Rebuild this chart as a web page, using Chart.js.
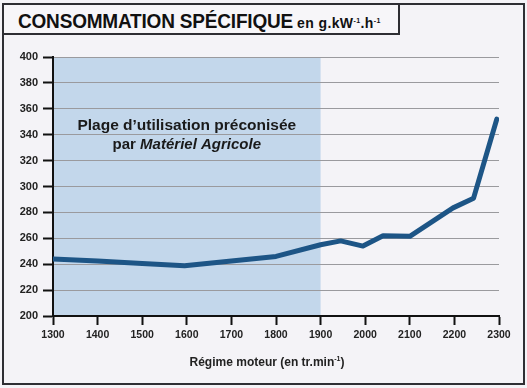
<!DOCTYPE html>
<html>
<head>
<meta charset="utf-8">
<script src="https://cdn.jsdelivr.net/npm/chart.js@4.4.1/dist/chart.umd.min.js"></script>
<style>
  html, body { margin:0; padding:0; background:#f4f3f7; }
  #wrap { position:relative; width:527px; height:388px; overflow:hidden; background:#f4f3f7; }
  #frame { position:absolute; left:2px; top:3px; width:519px; height:378px; border:2px solid #2e2e33; box-sizing:content-box; }
  #titlebox { position:absolute; left:2px; top:3px; width:394px; height:28px; border:2px solid #2e2e33; background:#f7f6f9; }
  #title { position:absolute; left:14px; top:5px; white-space:nowrap; font-family:"Liberation Sans", Arial, sans-serif; font-weight:bold; color:#111; transform-origin:0 0; transform:scaleX(0.95); font-size:20px; letter-spacing:-0.2px; }
  #unit { position:absolute; left:293px; top:10px; white-space:nowrap; font-family:"Liberation Sans", Arial, sans-serif; font-weight:bold; color:#111; font-size:14px; letter-spacing:0.4px; }
  #unit sup, #xtitle sup { font-size:7px; vertical-align:5px; }
  #xtitle { position:absolute; left:0; width:534px; top:355px; text-align:center; font-family:"Liberation Sans", Arial, sans-serif; font-weight:bold; font-size:12px; color:#222; }
  canvas { position:absolute; left:0; top:0; }
</style>
</head>
<body>
<div id="wrap">
  <div id="frame"></div>
  <canvas id="c" width="527" height="388"></canvas>
  <div id="titlebox"><div id="title">CONSOMMATION SPÉCIFIQUE</div><div id="unit">en g.kW<sup>-1</sup>.h<sup>-1</sup></div></div>
  <div id="xtitle">Régime moteur (en tr.min<sup>-1</sup>)</div>
</div>
<script>
// Data
const rpm   = [1300, 1400, 1500, 1595, 1700, 1800, 1900, 1945, 1995, 2040, 2100, 2197, 2243, 2295];
const conso = [244, 242.5, 240.5, 238.8, 242.5, 246, 255, 258, 254, 262, 261.5, 283.5, 291, 352];
const xTicks = [1300, 1400, 1500, 1600, 1700, 1800, 1900, 2000, 2100, 2200, 2300];
const yTicks = [200, 220, 240, 260, 280, 300, 320, 340, 360, 380, 400];
const zoneStart = 1300, zoneEnd = 1900;
const zoneLine1 = "Plage d\u2019utilisation préconisée";
const zoneLine2a = "par ";
const zoneLine2b = "Matériel Agricole";

const points = rpm.map((x, i) => ({ x: x, y: conso[i] }));

const zonePlugin = {
  id: 'zone',
  beforeDraw(chart) {
    const { ctx, chartArea, scales } = chart;
    const x0 = scales.x.getPixelForValue(zoneStart);
    const x1 = scales.x.getPixelForValue(zoneEnd);
    ctx.save();
    ctx.fillStyle = '#c3d7eb';
    ctx.fillRect(x0, chartArea.top, x1 - x0, chartArea.bottom - chartArea.top);
    ctx.restore();
  },
  afterDatasetsDraw(chart) {
    const { ctx, scales } = chart;
    const cx = (scales.x.getPixelForValue(zoneStart) + scales.x.getPixelForValue(zoneEnd)) / 2;
    ctx.save();
    ctx.fillStyle = '#1a1a1a';
    ctx.textBaseline = 'middle';
    ctx.textAlign = 'center';
    ctx.font = 'bold 15.5px "Liberation Sans", Arial, sans-serif';
    ctx.fillText(zoneLine1, cx, 126);
    const fa = 'bold 15px "Liberation Sans", Arial, sans-serif';
    const fb = 'italic bold 15px "Liberation Sans", Arial, sans-serif';
    ctx.font = fa; const wa = ctx.measureText(zoneLine2a).width;
    ctx.font = fb; const wb = ctx.measureText(zoneLine2b).width;
    const start = cx - (wa + wb) / 2;
    ctx.textAlign = 'left';
    ctx.font = fa; ctx.fillText(zoneLine2a, start, 145);
    ctx.font = fb; ctx.fillText(zoneLine2b, start + wa, 145);
    ctx.restore();
  }
};

new Chart(document.getElementById('c'), {
  type: 'line',
  data: {
    datasets: [{
      data: points,
      borderColor: '#1d5586',
      borderWidth: 5,
      pointRadius: 0,
      tension: 0,
      fill: false,
      borderCapStyle: 'round',
      borderJoinStyle: 'round'
    }]
  },
  options: {
    responsive: false,
    animation: false,
    events: [],
    layout: { padding: { left: 0, top: 57, right: 28, bottom: 0 } },
    plugins: { legend: { display: false }, tooltip: { enabled: false } },
    scales: {
      x: {
        type: 'linear',
        min: 1300, max: 2300,
        afterFit(s) { s.height = 72; },
        afterBuildTicks(s) { s.ticks = xTicks.map(v => ({ value: v })); },
        grid: { display: true, drawOnChartArea: false, drawTicks: true, tickLength: 9, tickColor: '#111', tickWidth: 2 },
        border: { display: true, color: '#111', width: 2 },
        ticks: { color: '#222', padding: 4, callback: v => String(v), font: { family: '"Liberation Sans", Arial, sans-serif', size: 10.5, weight: 'bold' }, maxRotation: 0 }
      },
      y: {
        min: 200, max: 400,
        afterFit(s) { s.width = 53; },
        afterBuildTicks(s) { s.ticks = yTicks.map(v => ({ value: v })); },
        grid: { color: '#9a9a9e', lineWidth: 1, drawTicks: true, tickLength: 10, tickColor: '#111', tickWidth: 2 },
        border: { display: true, color: '#111', width: 2 },
        ticks: { color: '#222', padding: 5, callback: v => String(v), font: { family: '"Liberation Sans", Arial, sans-serif', size: 11, weight: 'bold' } }
      }
    }
  },
  plugins: [zonePlugin]
});
</script>
</body>
</html>
